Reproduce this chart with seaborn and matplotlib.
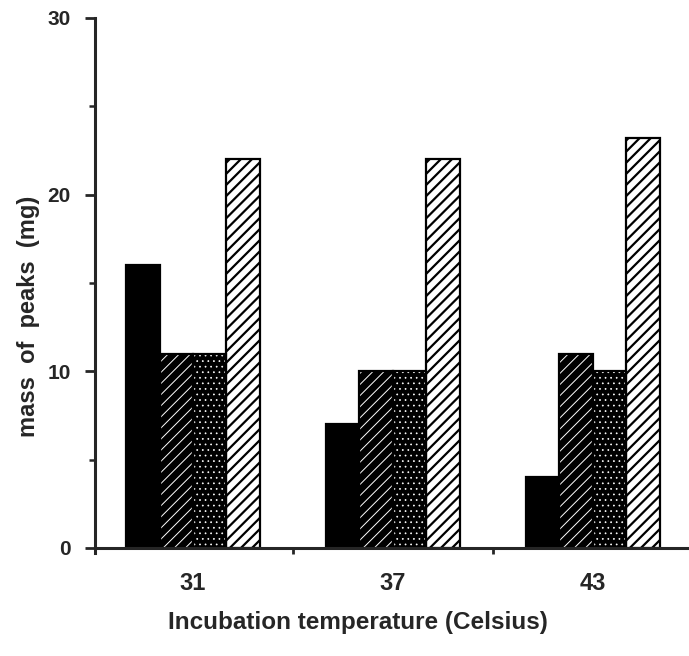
import numpy as np
import pandas as pd
import matplotlib
matplotlib.use("Agg")
import matplotlib.pyplot as plt
from matplotlib.patches import Rectangle
from matplotlib.ticker import FixedLocator
import seaborn as sns

# ---- data ----
temperatures = ["31", "37", "43"]
series_names = ["A", "B", "C", "D"]
series_a = [16.0, 7.0, 4.0]
series_b = [11.0, 10.0, 11.0]
series_c = [11.0, 10.0, 10.0]
series_d = [22.0, 22.0, 23.2]

rows = []
for name, vals in zip(series_names, [series_a, series_b, series_c, series_d]):
    for t, v in zip(temperatures, vals):
        rows.append({"temp": t, "series": name, "mass": v})
df = pd.DataFrame(rows)

sns.set_style("ticks")
plt.rcParams["font.family"] = ["Liberation Sans", "DejaVu Sans"]
plt.rcParams["hatch.linewidth"] = 1.6

fig = plt.figure(figsize=(6.89, 6.56), dpi=100)
ax = fig.add_axes([0.1379, 0.1566, 0.862, 0.816])

sns.barplot(data=df, x="temp", y="mass", hue="series", order=temperatures,
            hue_order=series_names, palette=["black", "black", "black", "white"],
            width=0.67, gap=0, legend=False, ax=ax, saturation=1,
            edgecolor="black", linewidth=0)

styles = {
    0: dict(hatch=None, hatch_color="black", hlw=1.0),
    1: dict(hatch="///", hatch_color="white", hlw=0.7),
    2: dict(hatch="...", hatch_color="white", hlw=0.5),
    3: dict(hatch="///", hatch_color="black", hlw=1.6),
}
for i, cont in enumerate(ax.containers):
    st = styles[i]
    for p in cont.patches:
        if st["hatch"]:
            p.set_hatch(st["hatch"])
        p.set_edgecolor(st["hatch_color"])
        p.set_linewidth(0)
        if hasattr(p, "set_hatch_linewidth"):
            p.set_hatch_linewidth(st["hlw"])
        ax.add_patch(Rectangle(p.get_xy(), p.get_width(), p.get_height(),
                               fill=False, edgecolor="black", linewidth=1.6,
                               zorder=p.get_zorder() + 0.1))

ax.set_ylim(-0.3, 30)
ax.set_xlim(-0.49, 2.48)

sns.despine(ax=ax)
for s in ["left", "bottom"]:
    ax.spines[s].set_linewidth(2.2)
ax.spines["bottom"].set_position(("data", 0))

ax.yaxis.set_major_locator(FixedLocator([0, 10, 20, 30]))
ax.yaxis.set_minor_locator(FixedLocator([5, 15, 25]))
ax.tick_params(axis="y", which="major", length=7.5, width=2.0, pad=10,
               labelsize=15, direction="out")
ax.tick_params(axis="y", which="minor", length=4.5, width=1.8, direction="out")
for lbl in ax.get_yticklabels():
    lbl.set_fontweight("bold")

ax.xaxis.set_minor_locator(FixedLocator([0.5, 1.5]))
ax.tick_params(axis="x", which="major", length=0, pad=17, labelsize=17)
ax.tick_params(axis="x", which="minor", length=4, width=2.0, direction="out")
for lbl in ax.get_xticklabels():
    lbl.set_fontweight("bold")

ax.set_xlabel("Incubation temperature (Celsius)", fontsize=17.5, fontweight="bold")
ax.set_ylabel("mass  of  peaks  (mg)", fontsize=17, fontweight="bold")
ax.xaxis.set_label_coords(0.443, -0.108)
ax.yaxis.set_label_coords(-0.093, 0.443)

fig.savefig("out.png", dpi=100)
